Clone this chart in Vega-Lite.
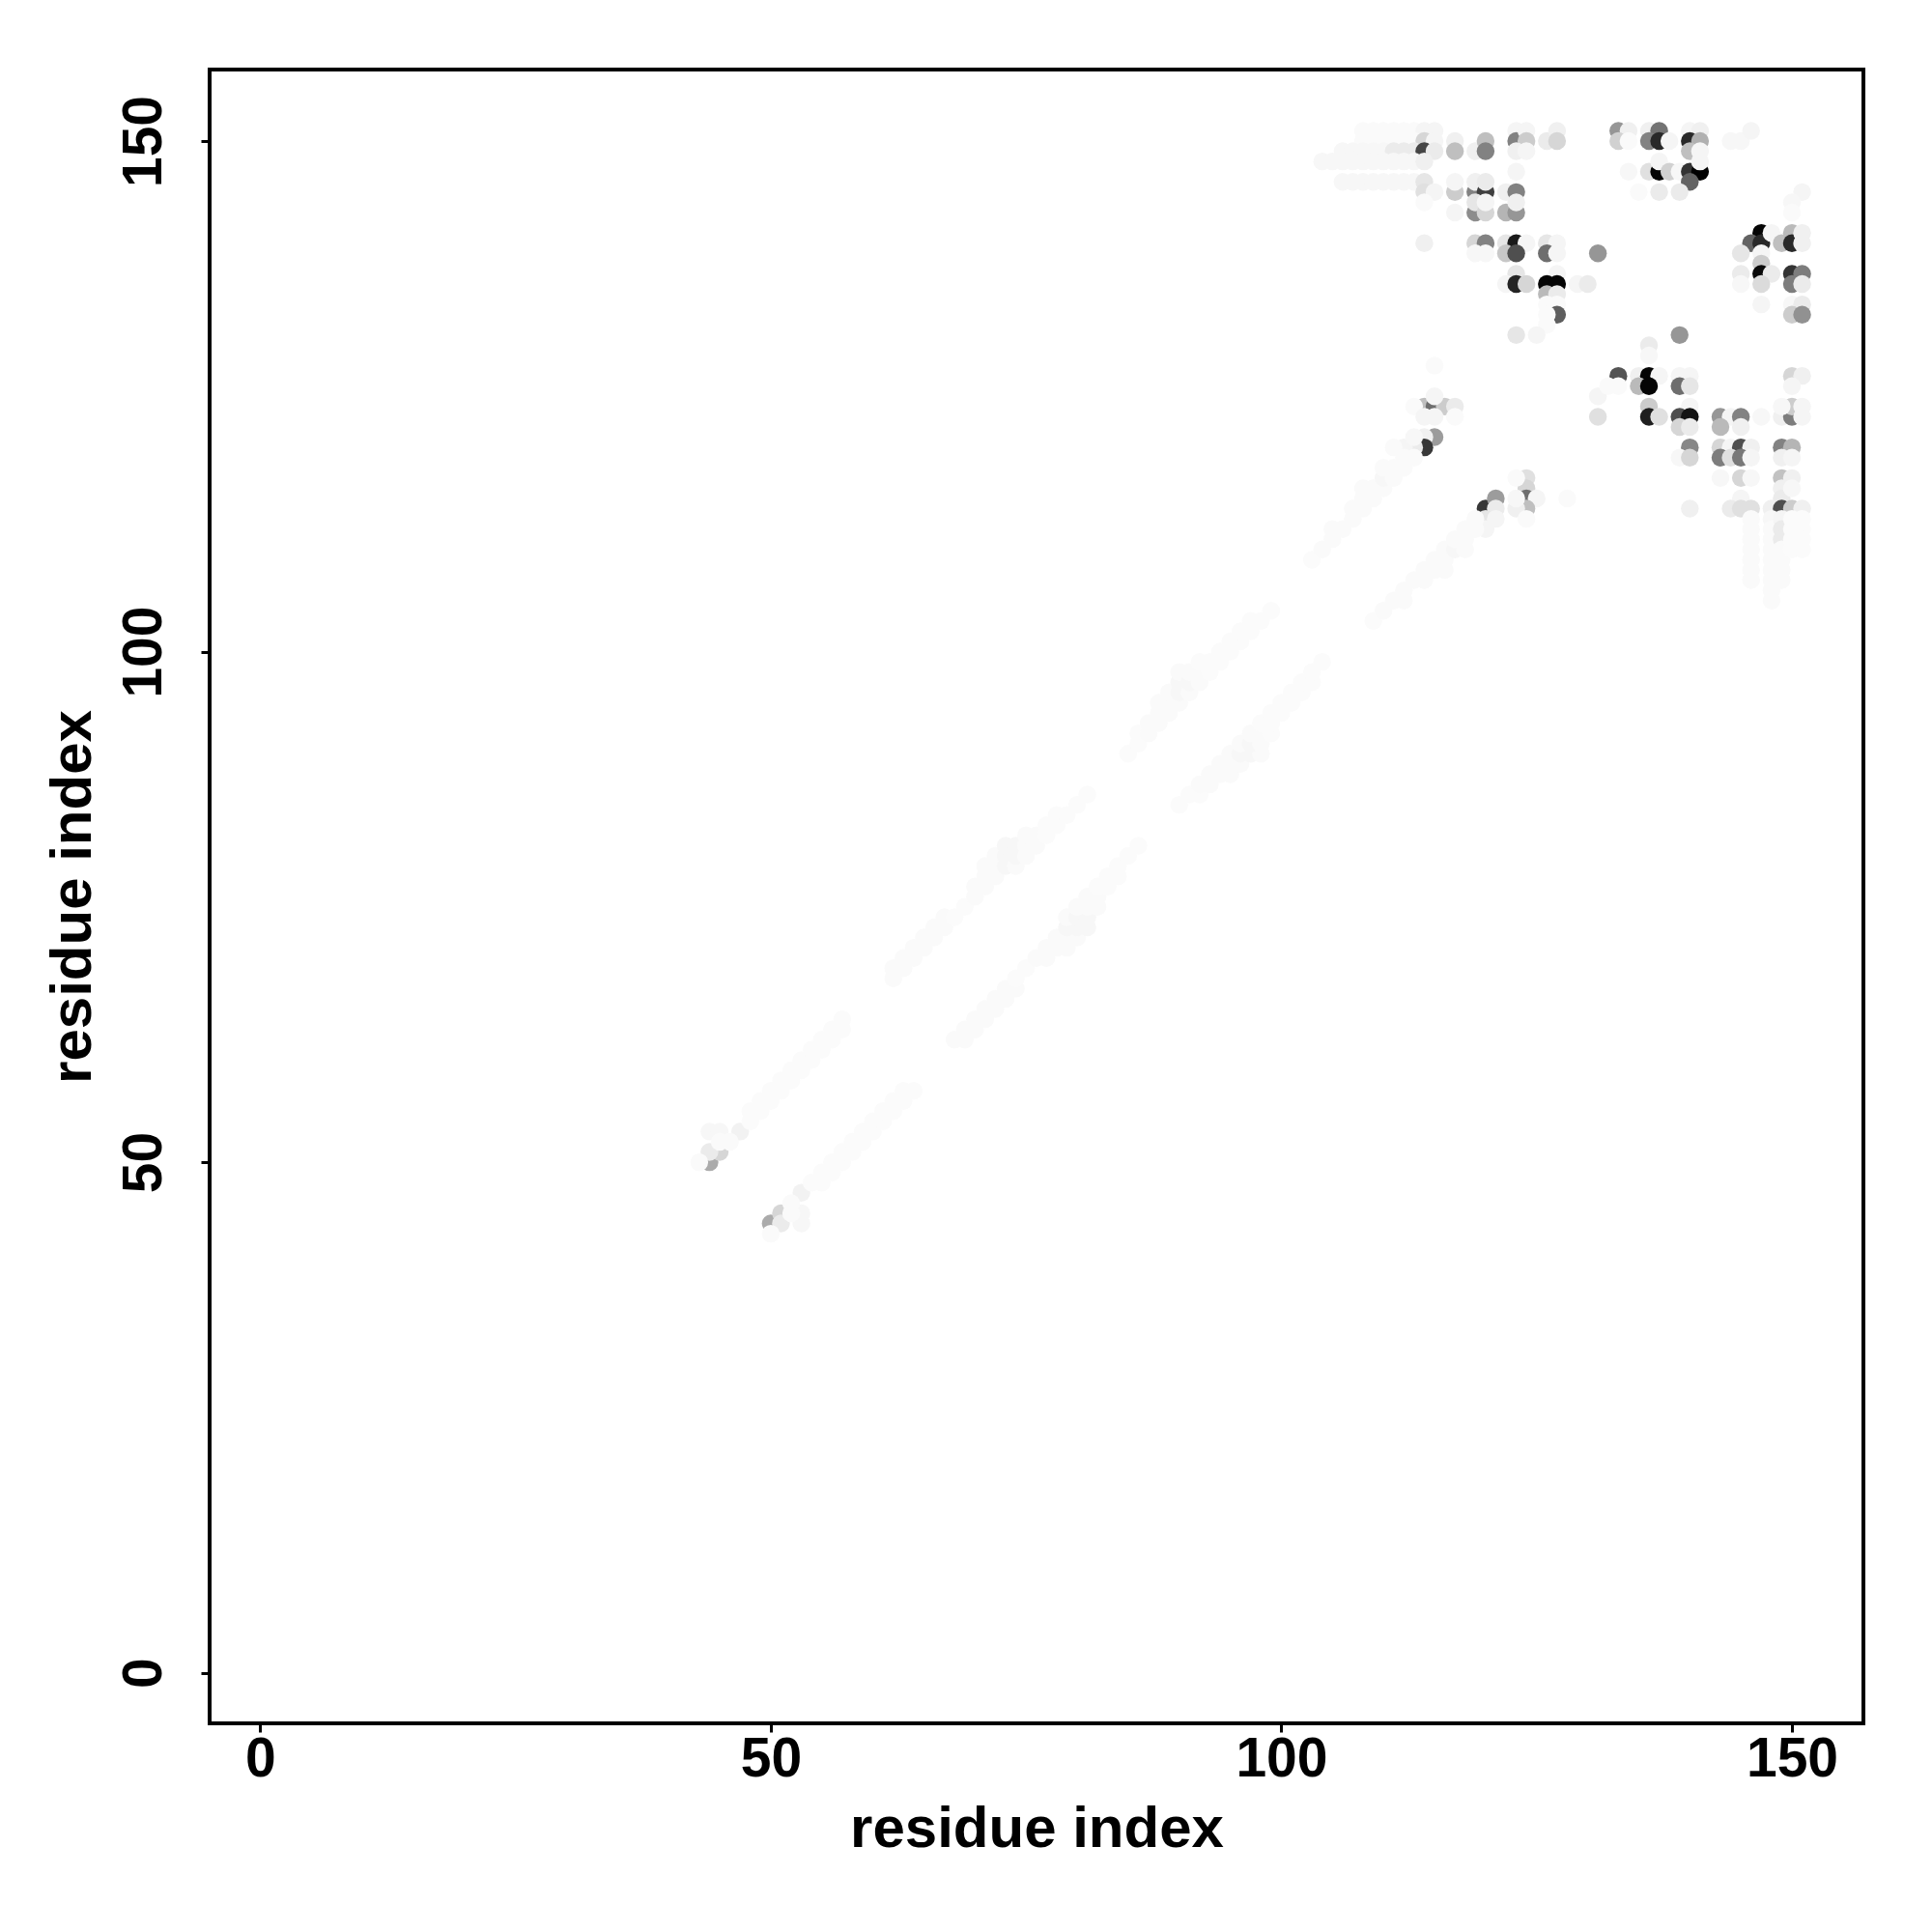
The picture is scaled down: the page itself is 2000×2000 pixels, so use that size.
{"$schema":"https://vega.github.io/schema/vega-lite/v6.json","width":1712,"height":1712,"autosize":{"type":"none"},"padding":{"left":217,"top":72,"right":71,"bottom":216},"background":"white","view":{"stroke":"black","strokeWidth":4,"fill":"white"},
"config":{"axis":{"grid":false,"domain":false,"tickColor":"black","tickWidth":3,"tickSize":9,"labelColor":"black","titleColor":"black","labelFont":"Liberation Sans","titleFont":"Liberation Sans","labelFontWeight":"bold","titleFontWeight":"bold","labelFontSize":57,"titleFontSize":60}},
"data":{"values":[
{"x":108,"y":151,"p":0.02},{"x":109,"y":151,"p":0.02},{"x":110,"y":151,"p":0.02},{"x":111,"y":151,"p":0.02},{"x":112,"y":151,"p":0.02},{"x":113,"y":151,"p":0.02},{"x":114,"y":151,"p":0.04},{"x":115,"y":151,"p":0.04},
{"x":108,"y":150,"p":0.02},{"x":109,"y":150,"p":0.02},{"x":110,"y":150,"p":0.02},{"x":111,"y":150,"p":0.02},{"x":112,"y":150,"p":0.02},{"x":113,"y":150,"p":0.02},{"x":114,"y":150,"p":0.16},{"x":115,"y":150,"p":0.04},{"x":117,"y":150,"p":0.06},
{"x":106,"y":149,"p":0.03},{"x":107,"y":149,"p":0.03},{"x":108,"y":149,"p":0.03},{"x":109,"y":149,"p":0.03},{"x":110,"y":149,"p":0.03},{"x":111,"y":149,"p":0.08},{"x":112,"y":149,"p":0.08},{"x":113,"y":149,"p":0.08},{"x":114,"y":149,"p":0.73},{"x":115,"y":149,"p":0.08},{"x":117,"y":149,"p":0.25},{"x":119,"y":149,"p":0.06},{"x":120,"y":150,"p":0.25},{"x":120,"y":149,"p":0.49},
{"x":104,"y":148,"p":0.03},{"x":105,"y":148,"p":0.03},{"x":106,"y":148,"p":0.03},{"x":107,"y":148,"p":0.03},{"x":108,"y":148,"p":0.03},{"x":109,"y":148,"p":0.03},{"x":110,"y":148,"p":0.03},{"x":111,"y":148,"p":0.03},{"x":112,"y":148,"p":0.03},{"x":113,"y":148,"p":0.03},{"x":114,"y":148,"p":0.06},
{"x":123,"y":147,"p":0.04},
{"x":106,"y":146,"p":0.03},{"x":107,"y":146,"p":0.03},{"x":108,"y":146,"p":0.03},{"x":109,"y":146,"p":0.03},{"x":110,"y":146,"p":0.03},{"x":111,"y":146,"p":0.03},{"x":112,"y":146,"p":0.03},{"x":113,"y":146,"p":0.03},{"x":114,"y":146,"p":0.1},
{"x":114,"y":145,"p":0.12},{"x":115,"y":145,"p":0.04},{"x":117,"y":145,"p":0.2},{"x":117,"y":146,"p":0.04},{"x":119,"y":145,"p":0.49},{"x":119,"y":146,"p":0.06},{"x":120,"y":145,"p":0.75},{"x":120,"y":146,"p":0.08},{"x":122,"y":145,"p":0.06},{"x":123,"y":145,"p":0.49},
{"x":114,"y":144,"p":0.02},{"x":117,"y":143,"p":0.04},{"x":119,"y":143,"p":0.45},{"x":119,"y":144,"p":0.1},{"x":120,"y":143,"p":0.16},{"x":120,"y":144,"p":0.04},{"x":122,"y":143,"p":0.29},{"x":123,"y":143,"p":0.41},{"x":123,"y":144,"p":0.06},
{"x":123,"y":151,"p":0.04},{"x":123,"y":150,"p":0.49},{"x":124,"y":151,"p":0.04},{"x":124,"y":150,"p":0.2},{"x":123,"y":149,"p":0.06},{"x":124,"y":149,"p":0.04},{"x":126,"y":150,"p":0.08},{"x":127,"y":151,"p":0.06},{"x":127,"y":150,"p":0.16},
{"x":114,"y":140,"p":0.06},{"x":119,"y":140,"p":0.16},{"x":120,"y":140,"p":0.49},{"x":122,"y":140,"p":0.1},{"x":123,"y":140,"p":0.9},{"x":124,"y":140,"p":0.04},{"x":126,"y":140,"p":0.1},{"x":127,"y":140,"p":0.04},
{"x":119,"y":139,"p":0.03},{"x":120,"y":139,"p":0.03},{"x":122,"y":139,"p":0.22},{"x":123,"y":139,"p":0.69},{"x":126,"y":139,"p":0.57},{"x":127,"y":139,"p":0.04},{"x":131,"y":139,"p":0.41},
{"x":123,"y":137,"p":0.1},{"x":127,"y":137,"p":0.04},{"x":122,"y":136,"p":0.04},{"x":123,"y":136,"p":0.86},{"x":124,"y":136,"p":0.16},{"x":126,"y":136,"p":0.98},{"x":127,"y":136,"p":0.98},{"x":129,"y":136,"p":0.04},{"x":130,"y":136,"p":0.08},
{"x":126,"y":135,"p":0.27},{"x":127,"y":135,"p":0.08},{"x":126,"y":134,"p":0.02},{"x":127,"y":134,"p":0.02},{"x":127,"y":133,"p":0.63},{"x":126,"y":133,"p":0.02},{"x":126,"y":132,"p":0.02},{"x":123,"y":131,"p":0.1},{"x":125,"y":131,"p":0.04},
{"x":133,"y":151,"p":0.41},{"x":134,"y":151,"p":0.06},{"x":133,"y":150,"p":0.18},{"x":134,"y":150,"p":0.02},{"x":136,"y":151,"p":0.06},{"x":137,"y":151,"p":0.55},{"x":136,"y":150,"p":0.49},{"x":137,"y":150,"p":0.84},{"x":138,"y":150,"p":0.04},{"x":140,"y":151,"p":0.04},{"x":141,"y":151,"p":0.06},{"x":140,"y":150,"p":0.84},{"x":141,"y":150,"p":0.31},{"x":140,"y":149,"p":0.25},{"x":141,"y":149,"p":0.04},{"x":144,"y":150,"p":0.03},{"x":145,"y":150,"p":0.03},{"x":146,"y":151,"p":0.04},
{"x":134,"y":147,"p":0.03},{"x":136,"y":147,"p":0.12},{"x":137,"y":147,"p":0.98},{"x":137,"y":148,"p":0.04},{"x":138,"y":147,"p":0.18},{"x":139,"y":147,"p":0.03},{"x":140,"y":147,"p":0.8},{"x":141,"y":147,"p":1},{"x":141,"y":148,"p":0.04},{"x":140,"y":146,"p":0.61},{"x":137,"y":145,"p":0.08},{"x":139,"y":145,"p":0.08},{"x":135,"y":145,"p":0.02},
{"x":151,"y":145,"p":0.04},{"x":150,"y":144,"p":0.03},{"x":150,"y":143,"p":0.02},
{"x":147,"y":141,"p":0.98},{"x":146,"y":140,"p":0.61},{"x":147,"y":140,"p":0.84},{"x":148,"y":141,"p":0.04},{"x":149,"y":140,"p":0.25},{"x":150,"y":141,"p":0.27},{"x":150,"y":140,"p":0.84},{"x":151,"y":141,"p":0.06},{"x":151,"y":140,"p":0.06},{"x":145,"y":139,"p":0.1},{"x":147,"y":139,"p":0.04},
{"x":145,"y":137,"p":0.08},{"x":147,"y":138,"p":0.2},{"x":147,"y":137,"p":0.96},{"x":148,"y":137,"p":0.08},{"x":150,"y":137,"p":0.8},{"x":151,"y":137,"p":0.51},{"x":147,"y":136,"p":0.14},{"x":150,"y":136,"p":0.51},{"x":151,"y":136,"p":0.08},{"x":145,"y":136,"p":0.03},
{"x":147,"y":134,"p":0.04},{"x":150,"y":134,"p":0.03},{"x":151,"y":134,"p":0.08},{"x":150,"y":133,"p":0.2},{"x":151,"y":133,"p":0.43},
{"x":139,"y":131,"p":0.41},{"x":136,"y":130,"p":0.08},{"x":136,"y":129,"p":0.03},{"x":115,"y":128,"p":0.02},
{"x":133,"y":127,"p":0.67},{"x":135,"y":127,"p":0.06},{"x":136,"y":127,"p":0.98},{"x":137,"y":127,"p":0.04},{"x":139,"y":127,"p":0.04},{"x":140,"y":127,"p":0.04},{"x":150,"y":127,"p":0.16},{"x":151,"y":127,"p":0.06},
{"x":135,"y":126,"p":0.27},{"x":136,"y":126,"p":0.98},{"x":139,"y":126,"p":0.57},{"x":140,"y":126,"p":0.1},{"x":133,"y":126,"p":0.02},{"x":150,"y":126,"p":0.04},{"x":131,"y":125,"p":0.04},{"x":132,"y":126,"p":0.02},
{"x":136,"y":124,"p":0.2},{"x":140,"y":124,"p":0.04},{"x":131,"y":123,"p":0.12},{"x":136,"y":123,"p":0.88},{"x":137,"y":123,"p":0.12},{"x":139,"y":123,"p":0.69},{"x":140,"y":123,"p":0.92},{"x":143,"y":123,"p":0.41},{"x":144,"y":123,"p":0.04},{"x":145,"y":123,"p":0.49},{"x":147,"y":123,"p":0.03},{"x":149,"y":123,"p":0.06},{"x":150,"y":123,"p":0.51},{"x":150,"y":124,"p":0.2},{"x":149,"y":124,"p":0.03},{"x":151,"y":124,"p":0.04},{"x":151,"y":123,"p":0.04},
{"x":139,"y":122,"p":0.16},{"x":140,"y":122,"p":0.08},{"x":143,"y":122,"p":0.27},{"x":145,"y":122,"p":0.06},
{"x":140,"y":120,"p":0.47},{"x":143,"y":120,"p":0.16},{"x":144,"y":120,"p":0.04},{"x":145,"y":120,"p":0.69},{"x":146,"y":120,"p":0.06},{"x":149,"y":120,"p":0.49},{"x":150,"y":120,"p":0.29},
{"x":139,"y":119,"p":0.03},{"x":140,"y":119,"p":0.16},{"x":143,"y":119,"p":0.51},{"x":144,"y":119,"p":0.12},{"x":145,"y":119,"p":0.53},{"x":146,"y":119,"p":0.04},{"x":149,"y":119,"p":0.06},{"x":150,"y":119,"p":0.04},
{"x":143,"y":117,"p":0.03},{"x":145,"y":117,"p":0.16},{"x":146,"y":117,"p":0.03},{"x":149,"y":117,"p":0.24},{"x":150,"y":117,"p":0.06},
{"x":145,"y":115,"p":0.04},{"x":149,"y":116,"p":0.06},{"x":149,"y":115,"p":0.08},{"x":150,"y":116,"p":0.03},
{"x":140,"y":114,"p":0.06},{"x":144,"y":114,"p":0.08},{"x":145,"y":114,"p":0.12},{"x":146,"y":114,"p":0.12},{"x":148,"y":114,"p":0.06},{"x":149,"y":114,"p":0.69},{"x":150,"y":114,"p":0.2},{"x":151,"y":114,"p":0.06},
{"x":146,"y":113,"p":0.02},{"x":146,"y":112,"p":0.02},{"x":146,"y":111,"p":0.02},{"x":146,"y":110,"p":0.02},{"x":146,"y":109,"p":0.02},{"x":146,"y":108,"p":0.02},{"x":146,"y":107,"p":0.02},
{"x":148,"y":113,"p":0.03},{"x":148,"y":112,"p":0.02},{"x":148,"y":111,"p":0.02},{"x":148,"y":110,"p":0.02},{"x":148,"y":109,"p":0.02},{"x":148,"y":108,"p":0.02},{"x":148,"y":107,"p":0.02},{"x":148,"y":106,"p":0.02},{"x":148,"y":105,"p":0.02},
{"x":149,"y":113,"p":0.04},{"x":149,"y":112,"p":0.08},{"x":149,"y":111,"p":0.08},{"x":149,"y":110,"p":0.02},{"x":149,"y":109,"p":0.02},{"x":149,"y":108,"p":0.02},{"x":149,"y":107,"p":0.02},
{"x":150,"y":113,"p":0.015},{"x":150,"y":112,"p":0.015},{"x":150,"y":111,"p":0.015},{"x":150,"y":110,"p":0.015},{"x":151,"y":113,"p":0.015},{"x":151,"y":112,"p":0.015},{"x":151,"y":111,"p":0.015},{"x":151,"y":110,"p":0.015},
{"x":114,"y":124,"p":0.25},{"x":115,"y":124,"p":0.57},{"x":116,"y":124,"p":0.2},{"x":117,"y":124,"p":0.08},{"x":115,"y":125,"p":0.04},{"x":113,"y":124,"p":0.02},{"x":114,"y":123,"p":0.04},{"x":115,"y":123,"p":0.04},{"x":117,"y":123,"p":0.02},
{"x":115,"y":121,"p":0.39},{"x":114,"y":121,"p":0.06},{"x":114,"y":120,"p":0.78},{"x":113,"y":120,"p":0.08},{"x":112,"y":120,"p":0.04},{"x":111,"y":120,"p":0.02},{"x":113,"y":121,"p":0.03},
{"x":120,"y":114,"p":0.78},{"x":121,"y":115,"p":0.39},{"x":121,"y":114,"p":0.08},{"x":120,"y":113,"p":0.1},{"x":120,"y":112,"p":0.04},{"x":121,"y":113,"p":0.04},{"x":124,"y":117,"p":0.12},{"x":124,"y":116,"p":0.16},{"x":124,"y":115,"p":0.57},{"x":125,"y":115,"p":0.04},{"x":124,"y":114,"p":0.25},{"x":123,"y":114,"p":0.06},{"x":123,"y":115,"p":0.03},{"x":123,"y":117,"p":0.02},{"x":124,"y":113,"p":0.02},{"x":128,"y":115,"p":0.02},
{"x":44,"y":50,"p":0.33},{"x":45,"y":51,"p":0.16},{"x":44,"y":51,"p":0.08},{"x":44,"y":53,"p":0.03},{"x":45,"y":53,"p":0.03},{"x":43,"y":50,"p":0.02},{"x":47,"y":53,"p":0.05},{"x":46,"y":52,"p":0.02},{"x":45,"y":52,"p":0.02},
{"x":50,"y":44,"p":0.33},{"x":51,"y":45,"p":0.16},{"x":51,"y":44,"p":0.08},{"x":53,"y":44,"p":0.03},{"x":53,"y":45,"p":0.03},{"x":50,"y":43,"p":0.02},{"x":53,"y":47,"p":0.05},{"x":52,"y":46,"p":0.02},{"x":52,"y":45,"p":0.02},
{"x":48,"y":54,"p":0.015},{"x":48,"y":55,"p":0.015},{"x":49,"y":55,"p":0.015},{"x":49,"y":56,"p":0.015},{"x":50,"y":56,"p":0.015},{"x":50,"y":57,"p":0.015},{"x":51,"y":57,"p":0.015},{"x":51,"y":58,"p":0.015},{"x":52,"y":58,"p":0.015},{"x":52,"y":59,"p":0.015},{"x":53,"y":59,"p":0.015},{"x":53,"y":60,"p":0.015},{"x":54,"y":60,"p":0.015},{"x":54,"y":61,"p":0.015},{"x":55,"y":61,"p":0.015},{"x":55,"y":62,"p":0.015},{"x":56,"y":62,"p":0.015},{"x":56,"y":63,"p":0.015},{"x":57,"y":63,"p":0.015},{"x":57,"y":64,"p":0.015},
{"x":62,"y":68,"p":0.02},{"x":62,"y":69,"p":0.02},{"x":63,"y":69,"p":0.02},{"x":63,"y":70,"p":0.02},{"x":64,"y":70,"p":0.02},{"x":64,"y":71,"p":0.02},{"x":65,"y":71,"p":0.02},{"x":65,"y":72,"p":0.02},{"x":66,"y":72,"p":0.02},{"x":66,"y":73,"p":0.02},{"x":67,"y":73,"p":0.02},{"x":67,"y":74,"p":0.02},{"x":68,"y":74,"p":0.015},{"x":69,"y":75,"p":0.015},{"x":70,"y":76,"p":0.02},{"x":70,"y":77,"p":0.02},{"x":71,"y":77,"p":0.02},{"x":71,"y":78,"p":0.02},{"x":71,"y":79,"p":0.02},{"x":72,"y":78,"p":0.02},{"x":72,"y":79,"p":0.02},{"x":72,"y":80,"p":0.02},{"x":73,"y":79,"p":0.03},{"x":73,"y":80,"p":0.03},{"x":73,"y":81,"p":0.03},{"x":74,"y":79,"p":0.02},{"x":74,"y":80,"p":0.03},{"x":74,"y":81,"p":0.03},{"x":75,"y":80,"p":0.02},{"x":75,"y":81,"p":0.02},{"x":75,"y":82,"p":0.02},{"x":76,"y":81,"p":0.02},{"x":76,"y":82,"p":0.02},{"x":77,"y":82,"p":0.015},{"x":77,"y":83,"p":0.015},{"x":78,"y":83,"p":0.015},{"x":78,"y":84,"p":0.015},{"x":79,"y":84,"p":0.015},{"x":80,"y":85,"p":0.015},{"x":81,"y":86,"p":0.015},
{"x":85,"y":90,"p":0.015},{"x":86,"y":91,"p":0.015},{"x":86,"y":92,"p":0.015},{"x":87,"y":92,"p":0.02},{"x":87,"y":93,"p":0.02},{"x":88,"y":93,"p":0.02},{"x":88,"y":94,"p":0.02},{"x":88,"y":95,"p":0.02},{"x":89,"y":94,"p":0.02},{"x":89,"y":95,"p":0.02},{"x":89,"y":96,"p":0.02},{"x":90,"y":95,"p":0.02},{"x":90,"y":96,"p":0.03},{"x":90,"y":97,"p":0.03},{"x":90,"y":98,"p":0.02},{"x":91,"y":96,"p":0.02},{"x":91,"y":97,"p":0.03},{"x":91,"y":98,"p":0.02},{"x":92,"y":97,"p":0.02},{"x":92,"y":98,"p":0.02},{"x":92,"y":99,"p":0.015},{"x":93,"y":98,"p":0.015},{"x":93,"y":99,"p":0.015},{"x":94,"y":99,"p":0.015},{"x":94,"y":100,"p":0.015},{"x":95,"y":100,"p":0.015},{"x":95,"y":101,"p":0.015},{"x":96,"y":101,"p":0.015},{"x":96,"y":102,"p":0.015},{"x":97,"y":102,"p":0.015},{"x":97,"y":103,"p":0.015},{"x":98,"y":103,"p":0.015},{"x":99,"y":104,"p":0.015},
{"x":103,"y":109,"p":0.015},{"x":104,"y":110,"p":0.02},{"x":105,"y":111,"p":0.02},{"x":105,"y":112,"p":0.02},{"x":106,"y":112,"p":0.02},{"x":107,"y":113,"p":0.02},{"x":107,"y":114,"p":0.02},{"x":108,"y":114,"p":0.02},{"x":108,"y":115,"p":0.02},{"x":108,"y":116,"p":0.02},{"x":109,"y":115,"p":0.02},{"x":109,"y":116,"p":0.02},{"x":110,"y":116,"p":0.02},{"x":110,"y":117,"p":0.03},{"x":110,"y":118,"p":0.02},{"x":111,"y":117,"p":0.02},{"x":111,"y":118,"p":0.02},{"x":112,"y":118,"p":0.02},{"x":112,"y":119,"p":0.02},{"x":113,"y":119,"p":0.02},
{"x":54,"y":48,"p":0.015},{"x":55,"y":48,"p":0.015},{"x":55,"y":49,"p":0.015},{"x":56,"y":49,"p":0.015},{"x":56,"y":50,"p":0.015},{"x":57,"y":50,"p":0.015},{"x":57,"y":51,"p":0.015},{"x":58,"y":51,"p":0.015},{"x":58,"y":52,"p":0.015},{"x":59,"y":52,"p":0.015},{"x":59,"y":53,"p":0.015},{"x":60,"y":53,"p":0.015},{"x":60,"y":54,"p":0.015},{"x":61,"y":54,"p":0.015},{"x":61,"y":55,"p":0.015},{"x":62,"y":55,"p":0.015},{"x":62,"y":56,"p":0.015},{"x":63,"y":56,"p":0.015},{"x":63,"y":57,"p":0.015},{"x":64,"y":57,"p":0.015},
{"x":68,"y":62,"p":0.02},{"x":69,"y":62,"p":0.02},{"x":69,"y":63,"p":0.02},{"x":70,"y":63,"p":0.02},{"x":70,"y":64,"p":0.02},{"x":71,"y":64,"p":0.02},{"x":71,"y":65,"p":0.02},{"x":72,"y":65,"p":0.02},{"x":72,"y":66,"p":0.02},{"x":73,"y":66,"p":0.02},{"x":73,"y":67,"p":0.02},{"x":74,"y":67,"p":0.02},{"x":74,"y":68,"p":0.015},{"x":75,"y":69,"p":0.015},{"x":76,"y":70,"p":0.02},{"x":77,"y":70,"p":0.02},{"x":77,"y":71,"p":0.02},{"x":78,"y":71,"p":0.02},{"x":79,"y":71,"p":0.02},{"x":78,"y":72,"p":0.02},{"x":79,"y":72,"p":0.02},{"x":80,"y":72,"p":0.02},{"x":79,"y":73,"p":0.03},{"x":80,"y":73,"p":0.03},{"x":81,"y":73,"p":0.03},{"x":79,"y":74,"p":0.02},{"x":80,"y":74,"p":0.03},{"x":81,"y":74,"p":0.03},{"x":80,"y":75,"p":0.02},{"x":81,"y":75,"p":0.02},{"x":82,"y":75,"p":0.02},{"x":81,"y":76,"p":0.02},{"x":82,"y":76,"p":0.02},{"x":82,"y":77,"p":0.015},{"x":83,"y":77,"p":0.015},{"x":83,"y":78,"p":0.015},{"x":84,"y":78,"p":0.015},{"x":84,"y":79,"p":0.015},{"x":85,"y":80,"p":0.015},{"x":86,"y":81,"p":0.015},
{"x":90,"y":85,"p":0.015},{"x":91,"y":86,"p":0.015},{"x":92,"y":86,"p":0.015},{"x":92,"y":87,"p":0.02},{"x":93,"y":87,"p":0.02},{"x":93,"y":88,"p":0.02},{"x":94,"y":88,"p":0.02},{"x":95,"y":88,"p":0.02},{"x":94,"y":89,"p":0.02},{"x":95,"y":89,"p":0.02},{"x":96,"y":89,"p":0.02},{"x":95,"y":90,"p":0.02},{"x":96,"y":90,"p":0.03},{"x":97,"y":90,"p":0.03},{"x":98,"y":90,"p":0.02},{"x":96,"y":91,"p":0.02},{"x":97,"y":91,"p":0.03},{"x":98,"y":91,"p":0.02},{"x":97,"y":92,"p":0.02},{"x":98,"y":92,"p":0.02},{"x":99,"y":92,"p":0.015},{"x":98,"y":93,"p":0.015},{"x":99,"y":93,"p":0.015},{"x":99,"y":94,"p":0.015},{"x":100,"y":94,"p":0.015},{"x":100,"y":95,"p":0.015},{"x":101,"y":95,"p":0.015},{"x":101,"y":96,"p":0.015},{"x":102,"y":96,"p":0.015},{"x":102,"y":97,"p":0.015},{"x":103,"y":97,"p":0.015},{"x":103,"y":98,"p":0.015},{"x":104,"y":99,"p":0.015},
{"x":109,"y":103,"p":0.015},{"x":110,"y":104,"p":0.02},{"x":111,"y":105,"p":0.02},{"x":112,"y":105,"p":0.02},{"x":112,"y":106,"p":0.02},{"x":113,"y":107,"p":0.02},{"x":114,"y":107,"p":0.02},{"x":114,"y":108,"p":0.02},{"x":115,"y":108,"p":0.02},{"x":116,"y":108,"p":0.02},{"x":115,"y":109,"p":0.02},{"x":116,"y":109,"p":0.02},{"x":116,"y":110,"p":0.02},{"x":117,"y":110,"p":0.03},{"x":118,"y":110,"p":0.02},{"x":117,"y":111,"p":0.02},{"x":118,"y":111,"p":0.02},{"x":118,"y":112,"p":0.02},{"x":119,"y":112,"p":0.02},{"x":119,"y":113,"p":0.02}
]},
"mark":{"type":"circle","size":340,"opacity":1},
"encoding":{
"x":{"field":"x","type":"quantitative","scale":{"domain":[-4.95,157],"nice":false,"zero":false},"axis":{"values":[0,50,100,150],"title":"residue index","labelPadding":0,"titlePadding":15}},
"y":{"field":"y","type":"quantitative","scale":{"domain":[-4.95,157],"nice":false,"zero":false},"axis":{"values":[0,50,100,150],"title":"residue index","labelAngle":-90,"labelAlign":"center","labelBaseline":"bottom","labelPadding":30,"titlePadding":14}},
"color":{"field":"p","type":"quantitative","legend":null,"scale":{"domain":[0,1],"range":["#ffffff","#000000"],"interpolate":"rgb"}},
"order":[{"field":"x","type":"quantitative"},{"field":"y","type":"quantitative"}]
}}
